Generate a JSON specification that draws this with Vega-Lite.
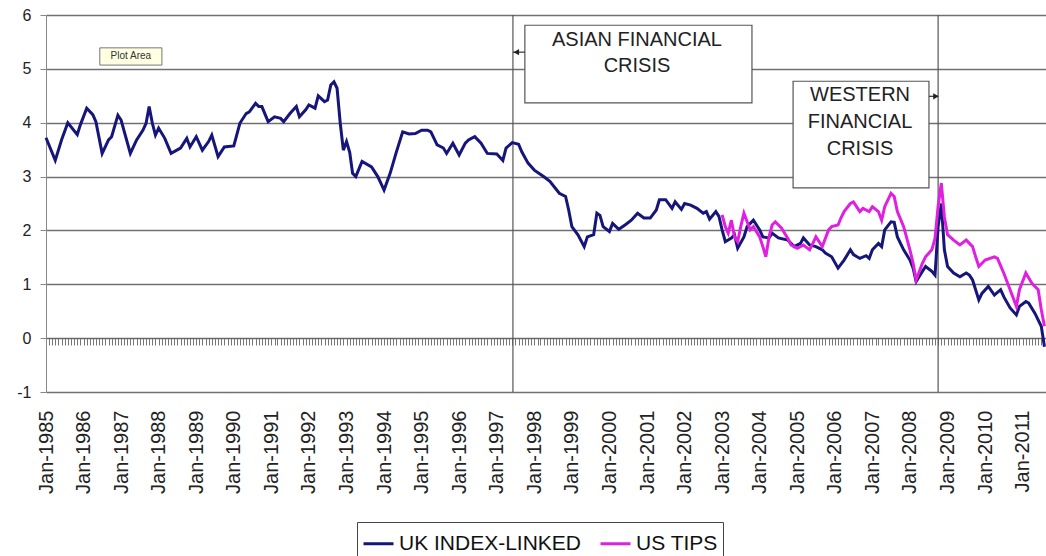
{
  "$schema": "https://vega.github.io/schema/vega-lite/v6.json",
  "width": 1000,
  "height": 377,
  "autosize": "none",
  "padding": {"left": 46, "top": 15, "right": 0, "bottom": 164},
  "background": "white",
  "config": {"view": {"stroke": null}, "font": "Liberation Sans"},
  "resolve": {"axis": {"x": "independent", "y": "independent"}},
  "datasets": {
    "series": [
      {"d":"1985-01-01","v":3.72,"s":"UK INDEX-LINKED"},{"d":"1985-04-01","v":3.30,"s":"UK INDEX-LINKED"},{"d":"1985-06-01","v":3.68,"s":"UK INDEX-LINKED"},{"d":"1985-08-01","v":4.00,"s":"UK INDEX-LINKED"},{"d":"1985-11-01","v":3.78,"s":"UK INDEX-LINKED"},{"d":"1985-12-01","v":3.96,"s":"UK INDEX-LINKED"},
      {"d":"1986-02-01","v":4.27,"s":"UK INDEX-LINKED"},{"d":"1986-04-01","v":4.15,"s":"UK INDEX-LINKED"},{"d":"1986-05-01","v":4.02,"s":"UK INDEX-LINKED"},{"d":"1986-07-01","v":3.43,"s":"UK INDEX-LINKED"},{"d":"1986-09-01","v":3.68,"s":"UK INDEX-LINKED"},{"d":"1986-10-01","v":3.74,"s":"UK INDEX-LINKED"},{"d":"1986-12-01","v":4.14,"s":"UK INDEX-LINKED"},
      {"d":"1987-01-01","v":4.05,"s":"UK INDEX-LINKED"},{"d":"1987-04-01","v":3.43,"s":"UK INDEX-LINKED"},{"d":"1987-06-01","v":3.68,"s":"UK INDEX-LINKED"},{"d":"1987-08-01","v":3.86,"s":"UK INDEX-LINKED"},{"d":"1987-09-01","v":3.99,"s":"UK INDEX-LINKED"},{"d":"1987-10-01","v":4.30,"s":"UK INDEX-LINKED"},{"d":"1987-11-01","v":3.99,"s":"UK INDEX-LINKED"},{"d":"1987-12-01","v":3.77,"s":"UK INDEX-LINKED"},
      {"d":"1988-01-01","v":3.90,"s":"UK INDEX-LINKED"},{"d":"1988-03-01","v":3.71,"s":"UK INDEX-LINKED"},{"d":"1988-05-01","v":3.43,"s":"UK INDEX-LINKED"},{"d":"1988-08-01","v":3.53,"s":"UK INDEX-LINKED"},{"d":"1988-10-01","v":3.71,"s":"UK INDEX-LINKED"},{"d":"1988-11-01","v":3.55,"s":"UK INDEX-LINKED"},
      {"d":"1989-01-01","v":3.74,"s":"UK INDEX-LINKED"},{"d":"1989-03-01","v":3.49,"s":"UK INDEX-LINKED"},{"d":"1989-05-01","v":3.65,"s":"UK INDEX-LINKED"},{"d":"1989-06-01","v":3.77,"s":"UK INDEX-LINKED"},{"d":"1989-08-01","v":3.37,"s":"UK INDEX-LINKED"},{"d":"1989-10-01","v":3.55,"s":"UK INDEX-LINKED"},
      {"d":"1990-01-01","v":3.57,"s":"UK INDEX-LINKED"},{"d":"1990-03-01","v":3.99,"s":"UK INDEX-LINKED"},{"d":"1990-05-01","v":4.17,"s":"UK INDEX-LINKED"},{"d":"1990-06-01","v":4.20,"s":"UK INDEX-LINKED"},{"d":"1990-08-01","v":4.36,"s":"UK INDEX-LINKED"},{"d":"1990-09-01","v":4.30,"s":"UK INDEX-LINKED"},{"d":"1990-10-01","v":4.30,"s":"UK INDEX-LINKED"},{"d":"1990-12-01","v":4.02,"s":"UK INDEX-LINKED"},
      {"d":"1991-02-01","v":4.11,"s":"UK INDEX-LINKED"},{"d":"1991-04-01","v":4.08,"s":"UK INDEX-LINKED"},{"d":"1991-05-01","v":4.02,"s":"UK INDEX-LINKED"},{"d":"1991-07-01","v":4.17,"s":"UK INDEX-LINKED"},{"d":"1991-09-01","v":4.30,"s":"UK INDEX-LINKED"},{"d":"1991-10-01","v":4.11,"s":"UK INDEX-LINKED"},{"d":"1991-12-01","v":4.24,"s":"UK INDEX-LINKED"},
      {"d":"1992-01-01","v":4.33,"s":"UK INDEX-LINKED"},{"d":"1992-03-01","v":4.27,"s":"UK INDEX-LINKED"},{"d":"1992-04-01","v":4.50,"s":"UK INDEX-LINKED"},{"d":"1992-06-01","v":4.39,"s":"UK INDEX-LINKED"},{"d":"1992-07-01","v":4.42,"s":"UK INDEX-LINKED"},{"d":"1992-08-01","v":4.70,"s":"UK INDEX-LINKED"},{"d":"1992-09-01","v":4.76,"s":"UK INDEX-LINKED"},{"d":"1992-10-01","v":4.64,"s":"UK INDEX-LINKED"},{"d":"1992-11-01","v":3.99,"s":"UK INDEX-LINKED"},{"d":"1992-12-01","v":3.49,"s":"UK INDEX-LINKED"},
      {"d":"1993-01-01","v":3.65,"s":"UK INDEX-LINKED"},{"d":"1993-02-01","v":3.45,"s":"UK INDEX-LINKED"},{"d":"1993-03-01","v":3.06,"s":"UK INDEX-LINKED"},{"d":"1993-04-01","v":3.00,"s":"UK INDEX-LINKED"},{"d":"1993-06-01","v":3.28,"s":"UK INDEX-LINKED"},{"d":"1993-09-01","v":3.18,"s":"UK INDEX-LINKED"},{"d":"1993-11-01","v":3.00,"s":"UK INDEX-LINKED"},
      {"d":"1994-01-01","v":2.75,"s":"UK INDEX-LINKED"},{"d":"1994-03-01","v":3.06,"s":"UK INDEX-LINKED"},{"d":"1994-05-01","v":3.46,"s":"UK INDEX-LINKED"},{"d":"1994-07-01","v":3.83,"s":"UK INDEX-LINKED"},{"d":"1994-09-01","v":3.79,"s":"UK INDEX-LINKED"},{"d":"1994-11-01","v":3.80,"s":"UK INDEX-LINKED"},
      {"d":"1995-01-01","v":3.86,"s":"UK INDEX-LINKED"},{"d":"1995-03-01","v":3.86,"s":"UK INDEX-LINKED"},{"d":"1995-04-01","v":3.83,"s":"UK INDEX-LINKED"},{"d":"1995-06-01","v":3.59,"s":"UK INDEX-LINKED"},{"d":"1995-08-01","v":3.53,"s":"UK INDEX-LINKED"},{"d":"1995-09-01","v":3.43,"s":"UK INDEX-LINKED"},{"d":"1995-11-01","v":3.62,"s":"UK INDEX-LINKED"},
      {"d":"1996-01-01","v":3.40,"s":"UK INDEX-LINKED"},{"d":"1996-03-01","v":3.62,"s":"UK INDEX-LINKED"},{"d":"1996-04-01","v":3.68,"s":"UK INDEX-LINKED"},{"d":"1996-06-01","v":3.74,"s":"UK INDEX-LINKED"},{"d":"1996-08-01","v":3.62,"s":"UK INDEX-LINKED"},{"d":"1996-10-01","v":3.43,"s":"UK INDEX-LINKED"},
      {"d":"1997-01-01","v":3.42,"s":"UK INDEX-LINKED"},{"d":"1997-03-01","v":3.30,"s":"UK INDEX-LINKED"},{"d":"1997-04-01","v":3.53,"s":"UK INDEX-LINKED"},{"d":"1997-06-01","v":3.63,"s":"UK INDEX-LINKED"},{"d":"1997-08-01","v":3.60,"s":"UK INDEX-LINKED"},{"d":"1997-09-01","v":3.46,"s":"UK INDEX-LINKED"},{"d":"1997-11-01","v":3.25,"s":"UK INDEX-LINKED"},
      {"d":"1998-01-01","v":3.12,"s":"UK INDEX-LINKED"},{"d":"1998-04-01","v":3.00,"s":"UK INDEX-LINKED"},{"d":"1998-06-01","v":2.91,"s":"UK INDEX-LINKED"},{"d":"1998-09-01","v":2.69,"s":"UK INDEX-LINKED"},{"d":"1998-11-01","v":2.63,"s":"UK INDEX-LINKED"},{"d":"1998-12-01","v":2.38,"s":"UK INDEX-LINKED"},
      {"d":"1999-01-01","v":2.07,"s":"UK INDEX-LINKED"},{"d":"1999-03-01","v":1.92,"s":"UK INDEX-LINKED"},{"d":"1999-05-01","v":1.70,"s":"UK INDEX-LINKED"},{"d":"1999-06-01","v":1.88,"s":"UK INDEX-LINKED"},{"d":"1999-08-01","v":1.92,"s":"UK INDEX-LINKED"},{"d":"1999-09-01","v":2.32,"s":"UK INDEX-LINKED"},{"d":"1999-10-01","v":2.28,"s":"UK INDEX-LINKED"},{"d":"1999-11-01","v":2.07,"s":"UK INDEX-LINKED"},
      {"d":"2000-01-01","v":1.98,"s":"UK INDEX-LINKED"},{"d":"2000-02-01","v":2.13,"s":"UK INDEX-LINKED"},{"d":"2000-04-01","v":2.02,"s":"UK INDEX-LINKED"},{"d":"2000-06-01","v":2.10,"s":"UK INDEX-LINKED"},{"d":"2000-08-01","v":2.19,"s":"UK INDEX-LINKED"},{"d":"2000-10-01","v":2.32,"s":"UK INDEX-LINKED"},{"d":"2000-12-01","v":2.23,"s":"UK INDEX-LINKED"},
      {"d":"2001-02-01","v":2.23,"s":"UK INDEX-LINKED"},{"d":"2001-04-01","v":2.38,"s":"UK INDEX-LINKED"},{"d":"2001-05-01","v":2.57,"s":"UK INDEX-LINKED"},{"d":"2001-07-01","v":2.57,"s":"UK INDEX-LINKED"},{"d":"2001-09-01","v":2.41,"s":"UK INDEX-LINKED"},{"d":"2001-10-01","v":2.53,"s":"UK INDEX-LINKED"},{"d":"2001-12-01","v":2.39,"s":"UK INDEX-LINKED"},
      {"d":"2002-01-01","v":2.50,"s":"UK INDEX-LINKED"},{"d":"2002-03-01","v":2.47,"s":"UK INDEX-LINKED"},{"d":"2002-05-01","v":2.41,"s":"UK INDEX-LINKED"},{"d":"2002-07-01","v":2.32,"s":"UK INDEX-LINKED"},{"d":"2002-08-01","v":2.35,"s":"UK INDEX-LINKED"},{"d":"2002-09-01","v":2.21,"s":"UK INDEX-LINKED"},{"d":"2002-11-01","v":2.35,"s":"UK INDEX-LINKED"},{"d":"2002-12-01","v":2.26,"s":"UK INDEX-LINKED"},
      {"d":"2003-01-01","v":2.01,"s":"UK INDEX-LINKED"},{"d":"2003-02-01","v":1.79,"s":"UK INDEX-LINKED"},{"d":"2003-04-01","v":1.86,"s":"UK INDEX-LINKED"},{"d":"2003-05-01","v":1.92,"s":"UK INDEX-LINKED"},{"d":"2003-06-01","v":1.67,"s":"UK INDEX-LINKED"},{"d":"2003-08-01","v":1.88,"s":"UK INDEX-LINKED"},{"d":"2003-09-01","v":2.07,"s":"UK INDEX-LINKED"},{"d":"2003-11-01","v":2.19,"s":"UK INDEX-LINKED"},
      {"d":"2004-01-01","v":2.01,"s":"UK INDEX-LINKED"},{"d":"2004-02-01","v":1.88,"s":"UK INDEX-LINKED"},{"d":"2004-04-01","v":1.86,"s":"UK INDEX-LINKED"},{"d":"2004-05-01","v":1.95,"s":"UK INDEX-LINKED"},{"d":"2004-07-01","v":1.86,"s":"UK INDEX-LINKED"},{"d":"2004-10-01","v":1.82,"s":"UK INDEX-LINKED"},{"d":"2004-12-01","v":1.70,"s":"UK INDEX-LINKED"},
      {"d":"2005-02-01","v":1.76,"s":"UK INDEX-LINKED"},{"d":"2005-03-01","v":1.86,"s":"UK INDEX-LINKED"},{"d":"2005-05-01","v":1.73,"s":"UK INDEX-LINKED"},{"d":"2005-07-01","v":1.70,"s":"UK INDEX-LINKED"},{"d":"2005-09-01","v":1.64,"s":"UK INDEX-LINKED"},{"d":"2005-10-01","v":1.58,"s":"UK INDEX-LINKED"},{"d":"2005-12-01","v":1.51,"s":"UK INDEX-LINKED"},
      {"d":"2006-02-01","v":1.30,"s":"UK INDEX-LINKED"},{"d":"2006-04-01","v":1.45,"s":"UK INDEX-LINKED"},{"d":"2006-06-01","v":1.64,"s":"UK INDEX-LINKED"},{"d":"2006-07-01","v":1.55,"s":"UK INDEX-LINKED"},{"d":"2006-09-01","v":1.48,"s":"UK INDEX-LINKED"},{"d":"2006-11-01","v":1.53,"s":"UK INDEX-LINKED"},{"d":"2006-12-01","v":1.48,"s":"UK INDEX-LINKED"},
      {"d":"2007-01-01","v":1.64,"s":"UK INDEX-LINKED"},{"d":"2007-03-01","v":1.76,"s":"UK INDEX-LINKED"},{"d":"2007-04-01","v":1.70,"s":"UK INDEX-LINKED"},{"d":"2007-05-01","v":2.01,"s":"UK INDEX-LINKED"},{"d":"2007-07-01","v":2.16,"s":"UK INDEX-LINKED"},{"d":"2007-08-01","v":2.15,"s":"UK INDEX-LINKED"},{"d":"2007-09-01","v":1.88,"s":"UK INDEX-LINKED"},{"d":"2007-11-01","v":1.64,"s":"UK INDEX-LINKED"},
      {"d":"2008-01-01","v":1.45,"s":"UK INDEX-LINKED"},{"d":"2008-02-01","v":1.30,"s":"UK INDEX-LINKED"},{"d":"2008-03-01","v":1.05,"s":"UK INDEX-LINKED"},{"d":"2008-05-01","v":1.24,"s":"UK INDEX-LINKED"},{"d":"2008-06-01","v":1.33,"s":"UK INDEX-LINKED"},{"d":"2008-08-01","v":1.24,"s":"UK INDEX-LINKED"},{"d":"2008-09-01","v":1.17,"s":"UK INDEX-LINKED"},{"d":"2008-10-01","v":2.07,"s":"UK INDEX-LINKED"},{"d":"2008-11-01","v":2.50,"s":"UK INDEX-LINKED"},{"d":"2008-12-01","v":1.64,"s":"UK INDEX-LINKED"},
      {"d":"2009-01-01","v":1.33,"s":"UK INDEX-LINKED"},{"d":"2009-03-01","v":1.21,"s":"UK INDEX-LINKED"},{"d":"2009-05-01","v":1.14,"s":"UK INDEX-LINKED"},{"d":"2009-07-01","v":1.21,"s":"UK INDEX-LINKED"},{"d":"2009-08-01","v":1.17,"s":"UK INDEX-LINKED"},{"d":"2009-09-01","v":1.08,"s":"UK INDEX-LINKED"},{"d":"2009-11-01","v":0.71,"s":"UK INDEX-LINKED"},{"d":"2009-12-01","v":0.83,"s":"UK INDEX-LINKED"},
      {"d":"2010-02-01","v":0.96,"s":"UK INDEX-LINKED"},{"d":"2010-04-01","v":0.80,"s":"UK INDEX-LINKED"},{"d":"2010-06-01","v":0.90,"s":"UK INDEX-LINKED"},{"d":"2010-07-01","v":0.77,"s":"UK INDEX-LINKED"},{"d":"2010-09-01","v":0.56,"s":"UK INDEX-LINKED"},{"d":"2010-11-01","v":0.43,"s":"UK INDEX-LINKED"},{"d":"2010-12-01","v":0.59,"s":"UK INDEX-LINKED"},
      {"d":"2011-02-01","v":0.68,"s":"UK INDEX-LINKED"},{"d":"2011-03-01","v":0.65,"s":"UK INDEX-LINKED"},{"d":"2011-05-01","v":0.46,"s":"UK INDEX-LINKED"},{"d":"2011-07-01","v":0.22,"s":"UK INDEX-LINKED"},{"d":"2011-08-01","v":-0.16,"s":"UK INDEX-LINKED"},
      {"d":"2003-01-01","v":2.29,"s":"US TIPS"},{"d":"2003-02-01","v":2.07,"s":"US TIPS"},{"d":"2003-03-01","v":1.95,"s":"US TIPS"},{"d":"2003-04-01","v":2.19,"s":"US TIPS"},{"d":"2003-05-01","v":1.88,"s":"US TIPS"},{"d":"2003-06-01","v":1.79,"s":"US TIPS"},{"d":"2003-07-01","v":2.07,"s":"US TIPS"},{"d":"2003-08-01","v":2.32,"s":"US TIPS"},{"d":"2003-10-01","v":2.01,"s":"US TIPS"},{"d":"2003-11-01","v":2.07,"s":"US TIPS"},
      {"d":"2004-01-01","v":1.88,"s":"US TIPS"},{"d":"2004-02-01","v":1.70,"s":"US TIPS"},{"d":"2004-03-01","v":1.51,"s":"US TIPS"},{"d":"2004-04-01","v":1.88,"s":"US TIPS"},{"d":"2004-05-01","v":2.10,"s":"US TIPS"},{"d":"2004-06-01","v":2.16,"s":"US TIPS"},{"d":"2004-08-01","v":2.04,"s":"US TIPS"},{"d":"2004-10-01","v":1.85,"s":"US TIPS"},{"d":"2004-11-01","v":1.73,"s":"US TIPS"},
      {"d":"2005-01-01","v":1.67,"s":"US TIPS"},{"d":"2005-03-01","v":1.73,"s":"US TIPS"},{"d":"2005-05-01","v":1.64,"s":"US TIPS"},{"d":"2005-06-01","v":1.76,"s":"US TIPS"},{"d":"2005-07-01","v":1.88,"s":"US TIPS"},{"d":"2005-09-01","v":1.70,"s":"US TIPS"},{"d":"2005-11-01","v":2.01,"s":"US TIPS"},{"d":"2005-12-01","v":2.07,"s":"US TIPS"},
      {"d":"2006-02-01","v":2.10,"s":"US TIPS"},{"d":"2006-03-01","v":2.23,"s":"US TIPS"},{"d":"2006-04-01","v":2.35,"s":"US TIPS"},{"d":"2006-06-01","v":2.50,"s":"US TIPS"},{"d":"2006-07-01","v":2.53,"s":"US TIPS"},{"d":"2006-09-01","v":2.35,"s":"US TIPS"},{"d":"2006-10-01","v":2.41,"s":"US TIPS"},{"d":"2006-12-01","v":2.35,"s":"US TIPS"},
      {"d":"2007-01-01","v":2.44,"s":"US TIPS"},{"d":"2007-03-01","v":2.35,"s":"US TIPS"},{"d":"2007-04-01","v":2.19,"s":"US TIPS"},{"d":"2007-05-01","v":2.44,"s":"US TIPS"},{"d":"2007-07-01","v":2.69,"s":"US TIPS"},{"d":"2007-08-01","v":2.63,"s":"US TIPS"},{"d":"2007-09-01","v":2.35,"s":"US TIPS"},{"d":"2007-11-01","v":2.07,"s":"US TIPS"},
      {"d":"2008-01-01","v":1.64,"s":"US TIPS"},{"d":"2008-02-01","v":1.39,"s":"US TIPS"},{"d":"2008-03-01","v":1.08,"s":"US TIPS"},{"d":"2008-05-01","v":1.39,"s":"US TIPS"},{"d":"2008-06-01","v":1.51,"s":"US TIPS"},{"d":"2008-08-01","v":1.64,"s":"US TIPS"},{"d":"2008-09-01","v":1.85,"s":"US TIPS"},{"d":"2008-10-01","v":2.45,"s":"US TIPS"},{"d":"2008-11-01","v":2.88,"s":"US TIPS"},{"d":"2008-12-01","v":2.25,"s":"US TIPS"},
      {"d":"2009-01-01","v":1.92,"s":"US TIPS"},{"d":"2009-03-01","v":1.82,"s":"US TIPS"},{"d":"2009-05-01","v":1.73,"s":"US TIPS"},{"d":"2009-07-01","v":1.82,"s":"US TIPS"},{"d":"2009-09-01","v":1.70,"s":"US TIPS"},{"d":"2009-10-01","v":1.51,"s":"US TIPS"},{"d":"2009-11-01","v":1.33,"s":"US TIPS"},
      {"d":"2010-01-01","v":1.45,"s":"US TIPS"},{"d":"2010-04-01","v":1.51,"s":"US TIPS"},{"d":"2010-05-01","v":1.48,"s":"US TIPS"},{"d":"2010-07-01","v":1.21,"s":"US TIPS"},{"d":"2010-09-01","v":0.90,"s":"US TIPS"},{"d":"2010-11-01","v":0.59,"s":"US TIPS"},{"d":"2010-12-01","v":0.90,"s":"US TIPS"},
      {"d":"2011-02-01","v":1.21,"s":"US TIPS"},{"d":"2011-04-01","v":1.02,"s":"US TIPS"},{"d":"2011-06-01","v":0.90,"s":"US TIPS"},{"d":"2011-07-01","v":0.53,"s":"US TIPS"},{"d":"2011-08-01","v":0.22,"s":"US TIPS"}
    ],
    "crises": [{"d": "1997-06-07"}, {"d": "2008-10-01"}],
    "boxes": [
      {"x1": "1997-10-01", "x2": "2003-10-18", "y1": 5.81, "y2": 4.37},
      {"x1": "2004-11-21", "x2": "2008-07-04", "y1": 4.77, "y2": 2.79}
    ],
    "arrows": [
      {"x1": "1997-06-07", "x2": "1997-10-01", "y": 5.31, "hx": "1997-07-10", "shape": "triangle-left"},
      {"x1": "2008-07-04", "x2": "2008-10-01", "y": 4.49, "hx": "2008-09-10", "shape": "triangle-right"}
    ],
    "labels": [
      {"d": "2000-09-25", "v": 5.54, "t": "ASIAN FINANCIAL"},
      {"d": "2000-09-25", "v": 5.05, "t": "CRISIS"},
      {"d": "2006-09-03", "v": 4.51, "t": "WESTERN"},
      {"d": "2006-09-03", "v": 4.01, "t": "FINANCIAL"},
      {"d": "2006-09-03", "v": 3.52, "t": "CRISIS"}
    ],
    "tip": [{"x1": "1986-06-08", "x2": "1988-02-02", "y1": 5.39, "y2": 5.07, "xm": "1987-04-06", "ym": 5.23, "t": "Plot Area"}]
  },
  "layer": [
    {
      "data": {"name": "boxes"},
      "mark": {"type": "rect", "fill": "white", "stroke": "#555555", "strokeWidth": 1.2},
      "encoding": {
        "x": {"field": "x1", "type": "temporal",
          "scale": {"domain": [{"year": 1985, "month": 1, "date": 1}, {"year": 2011, "month": 8, "date": 16}]},
          "axis": {"title": null, "orient": "bottom", "format": "%b-%Y", "tickCount": {"interval": "year", "step": 1},
            "labelAngle": 270, "labelAlign": "right", "labelBaseline": "middle", "labelFontSize": 20, "labelFont": "Liberation Sans",
            "labelColor": "#222222", "labelPadding": 18, "ticks": false, "domain": false, "grid": false,
            "labelOverlap": false, "labelFlush": false, "labelBound": false}},
        "x2": {"field": "x2"},
        "y": {"field": "y1", "type": "quantitative",
          "scale": {"domain": [-1, 6], "nice": false, "zero": false},
          "axis": {"title": null, "orient": "left", "values": [-1, 0, 1, 2, 3, 4, 5, 6], "grid": true, "gridColor": "#707070", "gridWidth": 1.3,
            "domain": true, "domainColor": "#888888", "ticks": true, "tickColor": "#888888", "tickSize": 6, "labels": true, "labelFontSize": 16, "labelFont": "Liberation Sans",
            "labelColor": "#222222", "labelPadding": 9, "labelExpr": "'' + datum.value", "zindex": 0}},
        "y2": {"field": "y2"}
      }
    },
    {
      "data": {"name": "crises"},
      "mark": {"type": "rule", "color": "#555555", "strokeWidth": 1.2},
      "encoding": {
        "x": {"field": "d", "type": "temporal", "axis": null,
          "scale": {"domain": [{"year": 1985, "month": 1, "date": 1}, {"year": 2011, "month": 8, "date": 16}]}}
      }
    },
    {
      "data": {"name": "series"},
      "mark": {"type": "line", "strokeWidth": 3},
      "encoding": {
        "x": {"field": "d", "type": "temporal",
          "scale": {"domain": [{"year": 1985, "month": 1, "date": 1}, {"year": 2011, "month": 8, "date": 16}]},
          "axis": {"title": null, "orient": "bottom", "offset": -54, "labels": false, "grid": false, "domain": true,
            "domainColor": "#666666", "domainWidth": 1.2, "ticks": true, "tickColor": "#777777", "tickSize": 7,
            "tickCount": {"interval": "month", "step": 1}}},
        "y": {"field": "v", "type": "quantitative", "axis": null,
          "scale": {"domain": [-1, 6], "nice": false, "zero": false}},
        "color": {"field": "s", "type": "nominal",
          "scale": {"domain": ["UK INDEX-LINKED", "US TIPS"], "range": ["#15157a", "#e020e0"]},
          "legend": {"orient": "none", "legendX": 311, "legendY": 507, "direction": "horizontal", "title": null,
            "symbolType": "stroke", "symbolSize": 900, "symbolStrokeWidth": 3, "labelFontSize": 21, "labelFont": "Liberation Sans",
            "labelColor": "#111111", "strokeColor": "#444444", "fillColor": "white", "padding": 5, "columnPadding": 12,
            "labelOffset": 4, "labelLimit": 400}}
      }
    },
    {
      "data": {"name": "arrows"},
      "mark": {"type": "rule", "color": "#333333", "strokeWidth": 1.2},
      "encoding": {
        "x": {"field": "x1", "type": "temporal", "axis": null,
          "scale": {"domain": [{"year": 1985, "month": 1, "date": 1}, {"year": 2011, "month": 8, "date": 16}]}},
        "x2": {"field": "x2"},
        "y": {"field": "y", "type": "quantitative", "axis": null, "scale": {"domain": [-1, 6], "nice": false, "zero": false}}
      }
    },
    {
      "data": {"name": "arrows"},
      "mark": {"type": "point", "filled": true, "color": "#222222", "size": 40, "opacity": 1},
      "encoding": {
        "x": {"field": "hx", "type": "temporal", "axis": null,
          "scale": {"domain": [{"year": 1985, "month": 1, "date": 1}, {"year": 2011, "month": 8, "date": 16}]}},
        "y": {"field": "y", "type": "quantitative", "axis": null, "scale": {"domain": [-1, 6], "nice": false, "zero": false}},
        "shape": {"field": "shape", "type": "nominal", "scale": null, "legend": null}
      }
    },
    {
      "data": {"name": "labels"},
      "mark": {"type": "text", "fontSize": 20, "font": "Liberation Sans", "color": "#222222", "align": "center", "baseline": "middle"},
      "encoding": {
        "x": {"field": "d", "type": "temporal", "axis": null,
          "scale": {"domain": [{"year": 1985, "month": 1, "date": 1}, {"year": 2011, "month": 8, "date": 16}]}},
        "y": {"field": "v", "type": "quantitative", "axis": null, "scale": {"domain": [-1, 6], "nice": false, "zero": false}},
        "text": {"field": "t"}
      }
    },
    {
      "data": {"name": "tip"},
      "mark": {"type": "rect", "fill": "#ffffe1", "stroke": "#777777", "strokeWidth": 1},
      "encoding": {
        "x": {"field": "x1", "type": "temporal", "axis": null,
          "scale": {"domain": [{"year": 1985, "month": 1, "date": 1}, {"year": 2011, "month": 8, "date": 16}]}},
        "x2": {"field": "x2"},
        "y": {"field": "y1", "type": "quantitative", "axis": null, "scale": {"domain": [-1, 6], "nice": false, "zero": false}},
        "y2": {"field": "y2"}
      }
    },
    {
      "data": {"name": "tip"},
      "mark": {"type": "text", "fontSize": 10, "font": "Liberation Sans", "color": "#333333", "align": "center", "baseline": "middle"},
      "encoding": {
        "x": {"field": "xm", "type": "temporal", "axis": null,
          "scale": {"domain": [{"year": 1985, "month": 1, "date": 1}, {"year": 2011, "month": 8, "date": 16}]}},
        "y": {"field": "ym", "type": "quantitative", "axis": null, "scale": {"domain": [-1, 6], "nice": false, "zero": false}},
        "text": {"field": "t"}
      }
    }
  ]
}
